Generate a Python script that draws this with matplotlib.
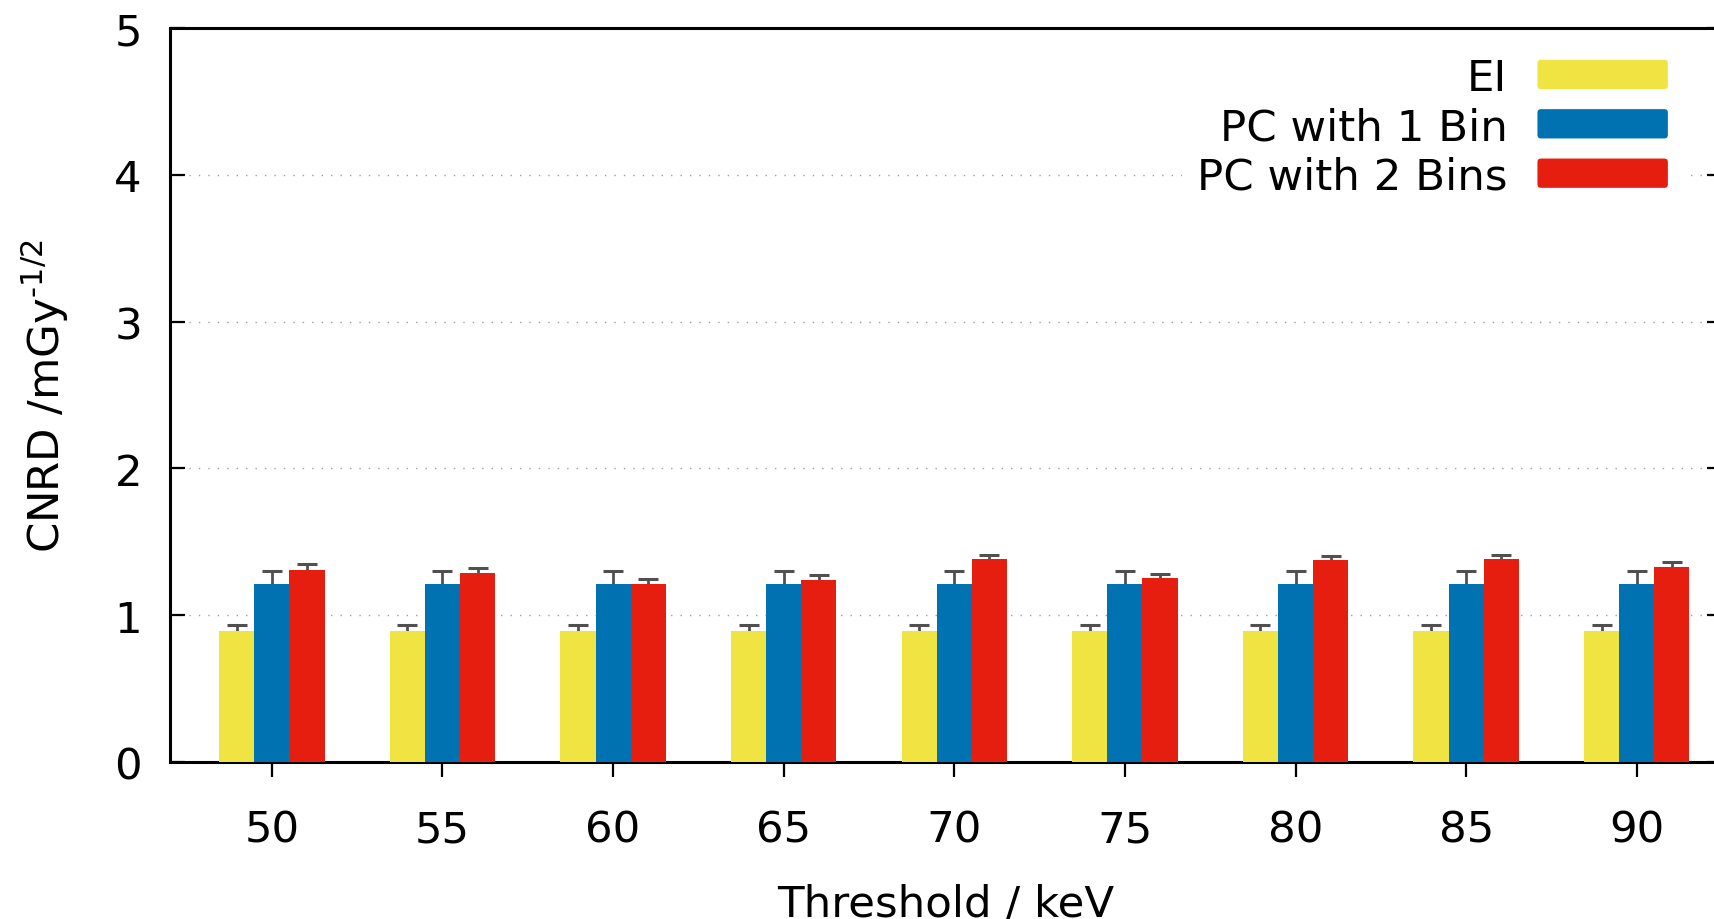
import numpy as np
import matplotlib
matplotlib.use('Agg')
import matplotlib.pyplot as plt
from matplotlib.patches import Patch, FancyBboxPatch
from matplotlib.legend_handler import HandlerPatch

# data
thresholds = [50, 55, 60, 65, 70, 75, 80, 85, 90]
ei = [0.89, 0.89, 0.89, 0.89, 0.89, 0.89, 0.89, 0.89, 0.89]
ei_err = [0.045, 0.045, 0.045, 0.045, 0.045, 0.045, 0.045, 0.045, 0.045]
pc1 = [1.21, 1.21, 1.21, 1.21, 1.21, 1.21, 1.21, 1.21, 1.21]
pc1_err = [0.088, 0.088, 0.088, 0.088, 0.088, 0.088, 0.088, 0.088, 0.088]
pc2 = [1.306, 1.288, 1.21, 1.242, 1.386, 1.256, 1.374, 1.386, 1.329]
pc2_err = [0.04, 0.033, 0.035, 0.03, 0.027, 0.025, 0.027, 0.022, 0.034]
labels = ['EI', 'PC with 1 Bin', 'PC with 2 Bins']
colors = ['#f0e442', '#0072b2', '#e51e10']

FS = 31.3
plt.rcParams['font.family'] = ['DejaVu Sans']
plt.rcParams['font.size'] = FS

fig = plt.figure(figsize=(17.14, 9.2), dpi=100)
ax = fig.add_axes([0.0989, 0.1707, 0.9058, 0.7975])

x = np.array(thresholds, dtype=float)
w = 1.03
series = [(ei, ei_err), (pc1, pc1_err), (pc2, pc2_err)]
for i, (vals, errs) in enumerate(series):
    xs = x + (i - 1) * w
    ax.errorbar(xs, vals, yerr=errs, fmt='none', ecolor='#505050',
                elinewidth=2.0, capsize=7, capthick=2.2, zorder=2)
    ax.bar(xs, vals, width=w, color=colors[i], edgecolor='none', zorder=3)

ax.set_xlim(47, 92.5)
ax.set_ylim(0, 5)
ax.set_xticks(thresholds)
ax.set_yticks([0, 1, 2, 3, 4, 5])

ax.set_axisbelow(True)
ax.yaxis.grid(True, color='#a0a0a0', linewidth=1.0, linestyle=(0, (1, 5.8)))

for s in ax.spines.values():
    s.set_linewidth(2.2)
ax.tick_params(axis='y', which='both', direction='in', length=10.8, width=1.6,
               right=True, pad=19.8, labelsize=FS)
ax.tick_params(axis='x', direction='out', length=10.8, width=1.6,
               top=False, pad=22.8, labelsize=FS)

ax.set_xlabel('Threshold / keV', fontsize=FS, labelpad=23)
ax.set_ylabel('CNRD /mGy$^{\\mathregular{\u20101/2}}$', fontsize=FS)
ax.yaxis.set_label_coords(-0.0635, 0.5)


def rounded_key(legend, orig_handle, xdescent, ydescent, width, height, fontsize):
    return FancyBboxPatch((-xdescent, -ydescent), width, height,
                          boxstyle='round,pad=0,rounding_size=2.5')


handles = [Patch(facecolor=c, edgecolor='none') for c in colors]
leg = ax.legend(handles, labels, loc='upper right', bbox_to_anchor=(0.9749, 0.982),
                borderaxespad=0, borderpad=0.35, markerfirst=False,
                handlelength=3.0, handleheight=0.66, handletextpad=0.69,
                labelspacing=0.17, fontsize=FS, frameon=True, fancybox=False,
                handler_map={Patch: HandlerPatch(patch_func=rounded_key)})
leg.get_frame().set_facecolor('white')
leg.get_frame().set_edgecolor('none')
leg.get_frame().set_alpha(1)

fig.savefig('out.png', dpi=100)
